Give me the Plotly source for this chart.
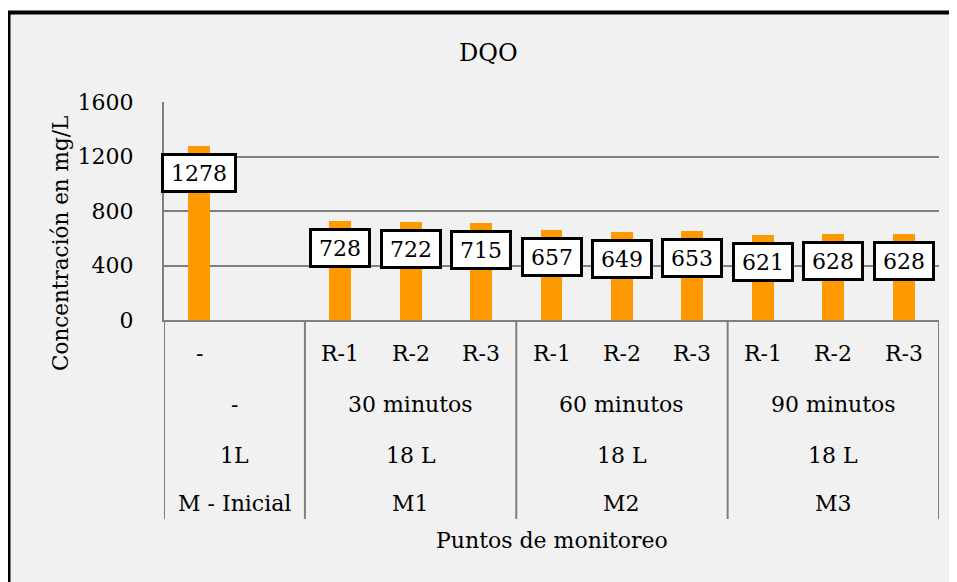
import plotly.graph_objects as go

# ---- data ----
level1 = ["-", "", "R-1", "R-2", "R-3", "R-1", "R-2", "R-3", "R-1", "R-2", "R-3"]
values = [1278, None, 728, 722, 715, 657, 649, 653, 621, 628, 628]
group_sizes = [2, 3, 3, 3]
level2 = ["-", "30 minutos", "60 minutos", "90 minutos"]
level3 = ["1L", "18 L", "18 L", "18 L"]
level4 = ["M - Inicial", "M1", "M2", "M3"]
y_ticks = [0, 400, 800, 1200, 1600]
title = "DQO"
y_title = "Concentración en mg/L"
x_title = "Puntos de monitoreo"

# ---- layout constants ----
OFF = 8  # page body margin
W, H = 957, 582
ML, MT = 164 - OFF, 102 - OFF
PW, PH = 775, 218
MR, MB = W - ML - PW, H - MT - PH
FONT = "DejaVu Serif"
FS = 22
GRID = "#7f7f7f"
BG = "#f1f1f1"


def px_x(px):
    return (px - OFF - ML) / PW


def px_y(py):
    return (MT + PH - (py - OFF)) / PH


xs = list(range(len(level1)))
fig = go.Figure()
fig.add_trace(go.Bar(x=xs, y=values, width=0.31, marker_color="#FF9900",
                     marker_line_width=0, hoverinfo="skip"))

ann = []
shapes = []

# white outside strips + black frame (left / top)
shapes.append(dict(type="rect", xref="paper", yref="paper", x0=px_x(-20), x1=px_x(8.5),
                   y0=px_y(700), y1=px_y(-20), fillcolor="white", line_width=0, layer="below"))
shapes.append(dict(type="rect", xref="paper", yref="paper", x0=px_x(-20), x1=px_x(1100),
                   y0=px_y(12.5), y1=px_y(-20), fillcolor="white", line_width=0, layer="below"))
shapes.append(dict(type="line", xref="paper", yref="paper", x0=px_x(8.5), x1=px_x(8.5),
                   y0=px_y(12.5), y1=px_y(700), line=dict(color="black", width=4), layer="below"))
shapes.append(dict(type="line", xref="paper", yref="paper", x0=px_x(6.5), x1=px_x(1100),
                   y0=px_y(12.5), y1=px_y(12.5), line=dict(color="black", width=4), layer="below"))

# data labels
for i, v in enumerate(values):
    if v is None:
        continue
    txt = str(v)
    ann.append(dict(x=i, y=v, xref="x", yref="y", text=txt, showarrow=False,
                    yanchor="top", yshift=-7, bgcolor="white", bordercolor="black",
                    borderwidth=3, borderpad=3, width=14 * len(txt) + 8, height=28,
                    align="center", valign="middle",
                    font=dict(family=FONT, size=FS, color="black")))

# level-1 labels
for i, t in enumerate(level1):
    if t:
        ann.append(dict(x=i, y=0, xref="x", yref="paper", text=t, showarrow=False,
                        yanchor="middle", yshift=-33, font=dict(family=FONT, size=FS, color="black")))

# grouped levels
start = 0
bounds = [-0.5]
for g, n in enumerate(group_sizes):
    center = start + (n - 1) / 2
    for lab, dy in ((level2[g], -84), (level3[g], -135), (level4[g], -183)):
        ann.append(dict(x=center, y=0, xref="x", yref="paper", text=lab, showarrow=False,
                        yanchor="middle", yshift=dy, font=dict(family=FONT, size=FS, color="black")))
    start += n
    bounds.append(start - 0.5)

for b in bounds:
    shapes.append(dict(type="line", xref="x", yref="paper", ysizemode="pixel", yanchor=0,
                       x0=b, x1=b, y0=0, y1=-199, line=dict(color=GRID, width=2)))

# titles
ann.append(dict(x=px_x(488), y=px_y(53), xref="paper", yref="paper", text=title, showarrow=False,
                xanchor="center", yanchor="middle", font=dict(family=FONT, size=24, color="black")))
ann.append(dict(x=px_x(60), y=px_y(244), xref="paper", yref="paper", text=y_title, showarrow=False,
                textangle=-90, xanchor="center", yanchor="middle",
                font=dict(family=FONT, size=21.5, color="black")))
ann.append(dict(x=0.5, y=0, xref="paper", yref="paper", text=x_title, showarrow=False,
                yanchor="middle", yshift=-220, font=dict(family=FONT, size=FS, color="black")))

fig.update_layout(
    width=W, height=H, autosize=False,
    margin=dict(l=ML, r=MR, t=MT, b=MB, pad=0),
    paper_bgcolor=BG, plot_bgcolor="rgba(0,0,0,0)",
    showlegend=False, bargap=0,
    annotations=ann, shapes=shapes,
    font=dict(family=FONT, size=FS, color="black"),
)
fig.update_xaxes(range=[-0.5, len(level1) - 0.5], showticklabels=False, showgrid=False,
                 zeroline=False, showline=True, linecolor=GRID, linewidth=2, ticks="")
fig.update_yaxes(range=[0, 1600], tickvals=y_ticks, showgrid=True, gridcolor=GRID, gridwidth=1.5,
                 zeroline=False, showline=True, linecolor=GRID, linewidth=2, ticks="",
                 ticklabelstandoff=24, tickfont=dict(family=FONT, size=FS, color="black"))

fig.write_html("out.html")
